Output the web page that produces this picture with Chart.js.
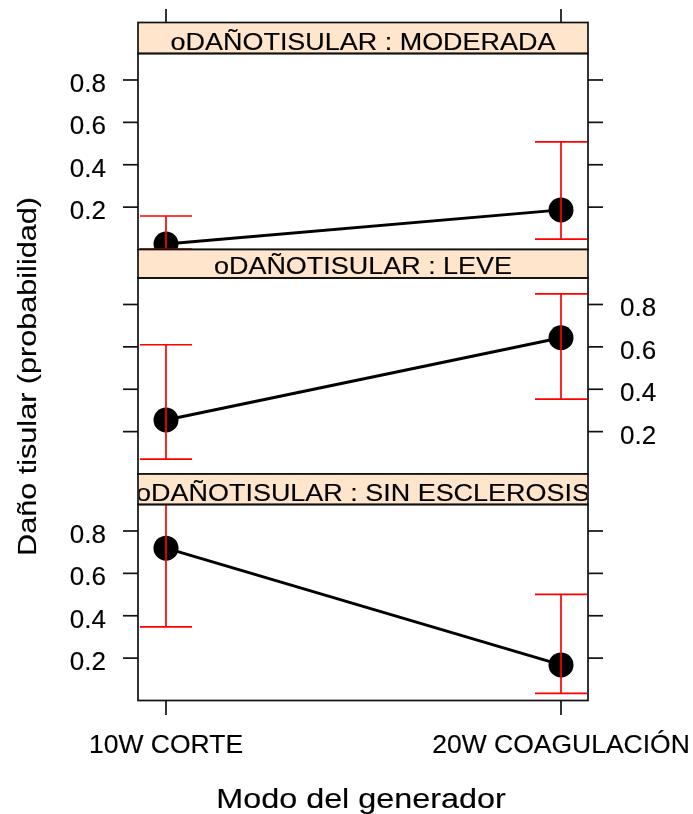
<!DOCTYPE html>
<html>
<head>
<meta charset="utf-8">
<script src="https://cdn.jsdelivr.net/npm/chart.js@4.4.1/dist/chart.umd.min.js"></script>
<style>
  html, body { margin: 0; padding: 0; background: #ffffff; }
  #wrap { position: relative; width: 693px; height: 814px; }
  #wrap canvas { position: absolute; left: 0; top: 0; }
</style>
</head>
<body>
<div id="wrap">
  <canvas id="panel1" width="693" height="814"></canvas>
  <canvas id="panel2" width="693" height="814"></canvas>
  <canvas id="panel3" width="693" height="814"></canvas>
</div>
<script>
// ---- data ----
const categories = ['10W CORTE', '20W COAGULACIÓN'];
const categoryPos = [1, 2];
const stripVar = 'oDAÑOTISULAR';
const levels = ['MODERADA', 'LEVE', 'SIN ESCLEROSIS'];

const moderadaFit   = [0.026, 0.187];
const moderadaLower = [0.002, 0.049];
const moderadaUpper = [0.158, 0.508];

const leveFit   = [0.255, 0.643];
const leveLower = [0.070, 0.353];
const leveUpper = [0.610, 0.850];

const sinFit   = [0.719, 0.168];
const sinLower = [0.347, 0.034];
const sinUpper = [0.950, 0.501];

const yTicks = [0.2, 0.4, 0.6, 0.8];
const yTickLabels = ['0.2', '0.4', '0.6', '0.8'];
const xTitle = 'Modo del generador';
const yTitle = 'Daño tisular (probabilidad)';

// ---- layout ----
const W = 693, H = 814;
const BOX_L = 138, BOX_R = 588;
const X_MIN = 1 - 28 / 395, X_MAX = 2 + 27 / 395;
const Y_MIN = 0, Y_MAX = 0.925;
const TICK = 15;
const CAP = 26;
const FONT = '"Liberation Sans", Arial, sans-serif';
const INK = '#111111';

const panelDefs = [
  { id: 'panel1', level: levels[0], fit: moderadaFit, lower: moderadaLower, upper: moderadaUpper,
    stripTop: 22.5, top: 53.5, bottom: 249.5, labelSide: 'left', topAxis: true, bottomAxis: false },
  { id: 'panel2', level: levels[1], fit: leveFit, lower: leveLower, upper: leveUpper,
    stripTop: 249.5, top: 278, bottom: 474, labelSide: 'right', topAxis: false, bottomAxis: false },
  { id: 'panel3', level: levels[2], fit: sinFit, lower: sinLower, upper: sinUpper,
    stripTop: 474, top: 504.5, bottom: 700.5, labelSide: 'left', topAxis: false, bottomAxis: true, titles: true }
];

// text with a horizontal stretch factor and a faint outline for weight
function drawText(ctx, text, x, y, size, sx, align) {
  ctx.save();
  ctx.translate(x, y);
  ctx.scale(sx, 1);
  ctx.font = size + 'px ' + FONT;
  ctx.textAlign = align;
  ctx.textBaseline = 'alphabetic';
  ctx.fillStyle = '#000000';
  ctx.fillText(text, 0, 0);
  ctx.strokeStyle = '#000000';
  ctx.lineWidth = 0.15;
  ctx.strokeText(text, 0, 0);
  ctx.restore();
}

function line(ctx, x1, y1, x2, y2) {
  ctx.beginPath();
  ctx.moveTo(x1, y1);
  ctx.lineTo(x2, y2);
  ctx.stroke();
}

function makePanelPlugin(def) {
  return {
    id: 'latticePanel',
    afterDatasetsDraw(chart) {
      // confidence bars, drawn over the points
      const { ctx, chartArea: a, scales: { x, y } } = chart;
      ctx.save();
      ctx.beginPath();
      ctx.rect(a.left, a.top, a.right - a.left, a.bottom - a.top);
      ctx.clip();
      ctx.strokeStyle = '#ff0000';
      ctx.lineWidth = 1.7;
      categoryPos.forEach((c, i) => {
        const px = x.getPixelForValue(c);
        const lo = y.getPixelForValue(def.lower[i]);
        const hi = y.getPixelForValue(def.upper[i]);
        line(ctx, px, lo, px, hi);
        line(ctx, px - CAP, lo, px + CAP, lo);
        line(ctx, px - CAP, hi, px + CAP, hi);
      });
      ctx.restore();
    },
    afterDraw(chart) {
      const { ctx, chartArea: a, scales: { x, y } } = chart;
      ctx.save();
      ctx.strokeStyle = INK;
      ctx.lineWidth = 1.7;

      // strip
      const sh = a.top - def.stripTop;
      ctx.fillStyle = '#ffe5cc';
      ctx.fillRect(a.left, def.stripTop, a.right - a.left, sh);
      ctx.strokeRect(a.left, def.stripTop, a.right - a.left, sh);
      ctx.save();
      ctx.beginPath();
      ctx.rect(a.left + 1, def.stripTop, a.right - a.left - 2, sh);
      ctx.clip();
      drawText(ctx, stripVar + ' : ' + def.level, (a.left + a.right) / 2, a.top - 4, 24.5, 1.1, 'center');
      ctx.restore();

      // panel border
      ctx.strokeRect(a.left, a.top, a.right - a.left, a.bottom - a.top);

      // y ticks on both sides, labels alternate
      yTicks.forEach((t, i) => {
        const py = y.getPixelForValue(t);
        line(ctx, a.left - TICK, py, a.left, py);
        line(ctx, a.right, py, a.right + TICK, py);
        if (def.labelSide === 'left') {
          drawText(ctx, yTickLabels[i], 106, py + 12, 26, 1, 'right');
        } else {
          drawText(ctx, yTickLabels[i], 620, py + 12, 26, 1, 'left');
        }
      });

      // x ticks above the first strip
      if (def.topAxis) {
        categoryPos.forEach(c => {
          const px = x.getPixelForValue(c);
          line(ctx, px, def.stripTop - 13.5, px, def.stripTop);
        });
      }
      // x axis below the last panel
      if (def.bottomAxis) {
        categoryPos.forEach((c, i) => {
          const px = x.getPixelForValue(c);
          line(ctx, px, a.bottom, px, a.bottom + 14.5);
          drawText(ctx, categories[i], px, 753, 25, 1.06, 'center');
        });
      }
      if (def.titles) {
        drawText(ctx, xTitle, 361, 808, 28, 1.155, 'center');
        ctx.save();
        ctx.translate(36, 376.5);
        ctx.rotate(-Math.PI / 2);
        drawText(ctx, yTitle, 0, 0, 25.5, 1.2, 'center');
        ctx.restore();
      }
      ctx.restore();
    }
  };
}

panelDefs.forEach(def => {
  new Chart(document.getElementById(def.id), {
    type: 'line',
    data: {
      datasets: [{
        data: def.fit.map((v, i) => ({ x: categoryPos[i], y: v })),
        borderColor: '#000000',
        borderWidth: 3,
        pointRadius: 12.5,
        pointHoverRadius: 12.5,
        pointBackgroundColor: '#000000',
        pointBorderWidth: 0,
        tension: 0,
        clip: 0
      }]
    },
    options: {
      responsive: false,
      animation: false,
      devicePixelRatio: 1,
      events: [],
      layout: { padding: { left: BOX_L, right: W - BOX_R, top: def.top, bottom: H - def.bottom } },
      plugins: { legend: { display: false }, tooltip: { enabled: false } },
      scales: {
        x: { type: 'linear', display: false, min: X_MIN, max: X_MAX },
        y: { type: 'linear', display: false, min: Y_MIN, max: Y_MAX }
      }
    },
    plugins: [makePanelPlugin(def)]
  });
});
</script>
</body>
</html>
